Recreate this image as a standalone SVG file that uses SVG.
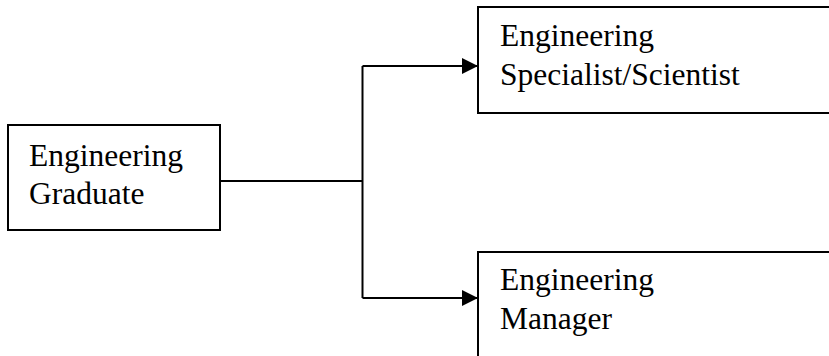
<svg xmlns="http://www.w3.org/2000/svg" width="829" height="356" viewBox="0 0 829 356">
  <style>
    .box { fill: #ffffff; stroke: #000000; stroke-width: 2; }
    .label { font-family: "Liberation Serif", "Times New Roman", serif; font-size: 31.5px; fill: #000000; }
    .wire { fill: none; stroke: #000000; stroke-width: 2; }
  </style>
  <defs>
    <marker id="arrow" markerWidth="16" markerHeight="16" refX="16" refY="8" orient="auto" markerUnits="userSpaceOnUse">
      <path d="M0,0 L16,8 L0,16 Z" fill="#000000"/>
    </marker>
  </defs>
  <rect width="829" height="356" fill="#ffffff"/>

  <g id="graduate">
    <rect class="box" x="8" y="125" width="212" height="105"/>
    <text class="label" x="29" y="166">Engineering</text>
    <text class="label" x="29" y="204">Graduate</text>
  </g>

  <g id="specialist">
    <rect class="box" x="478" y="7" width="400" height="106"/>
    <text class="label" x="500" y="46">Engineering</text>
    <text class="label" x="500" y="85">Specialist/Scientist</text>
  </g>

  <g id="manager">
    <rect class="box" x="478" y="252" width="400" height="140"/>
    <text class="label" x="500" y="290">Engineering</text>
    <text class="label" x="500" y="329">Manager</text>
  </g>

  <g id="connectors">
    <path class="wire" d="M220,181 H362.5"/>
    <path class="wire" d="M362.5,66 V298"/>
    <path class="wire" d="M362.5,66 H478" marker-end="url(#arrow)"/>
    <path class="wire" d="M362.5,298 H478" marker-end="url(#arrow)"/>
  </g>
</svg>
